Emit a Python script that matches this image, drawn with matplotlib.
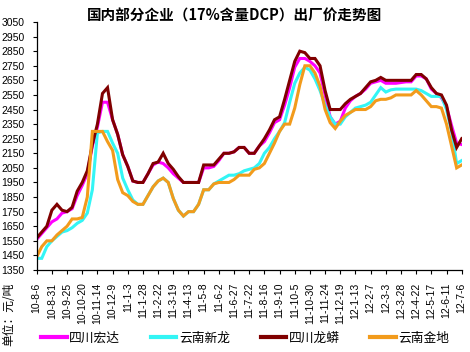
import matplotlib
matplotlib.use("Agg")
import matplotlib.pyplot as plt
from matplotlib.lines import Line2D

plt.rcParams['font.family'] = ['Noto Sans CJK SC', 'DejaVu Sans']

# 横轴标签（每隔25天）
tick_labels = ["10-8-6", "10-8-31", "10-9-25", "10-10-20", "10-11-14", "10-12-9",
               "11-1-3", "11-1-28", "11-2-22", "11-3-19", "11-4-13", "11-5-8",
               "11-6-2", "11-6-27", "11-7-22", "11-8-16", "11-9-10", "11-10-5",
               "11-10-30", "11-11-24", "11-12-19", "12-1-13", "12-2-7", "12-3-3",
               "12-3-28", "12-4-22", "12-5-17", "12-6-11", "12-7-6"]

names = ["四川宏达", "云南新龙", "四川龙蟒", "云南金地"]

hongda = [1560, 1600, 1640, 1680, 1700, 1740, 1750, 1770, 1860, 1930,
          2010, 2200, 2330, 2500, 2500, 2380, 2280, 2140, 2060, 1960,
          1950, 1950, 2010, 2070, 2090, 2080, 2050, 2010, 1980, 1950,
          1950, 1950, 1950, 2050, 2050, 2060, 2100, 2150, 2150, 2160,
          2190, 2190, 2150, 2150, 2200, 2230, 2290, 2360, 2380, 2480,
          2600, 2740, 2800, 2800, 2780, 2750, 2700, 2550, 2400, 2350,
          2370, 2460, 2510, 2540, 2560, 2590, 2630, 2640, 2650, 2630,
          2630, 2630, 2635, 2640, 2640, 2680, 2680, 2660, 2590, 2560,
          2530, 2470, 2340, 2220, 2210]

xinlong = [1430, 1430, 1510, 1550, 1580, 1610, 1620, 1640, 1670, 1690,
           1740, 1900, 2290, 2300, 2300, 2220, 2150, 1980, 1900, 1830,
           1800, 1800, 1860, 1920, 1960, 1980, 1950, 1840, 1760, 1720,
           1750, 1750, 1800, 1900, 1900, 1940, 1960, 1980, 2000, 2000,
           2010, 2030, 2040, 2050, 2080, 2150, 2190, 2250, 2300, 2360,
           2500, 2630, 2700, 2740, 2720, 2660, 2580, 2480, 2400, 2350,
           2350, 2400, 2430, 2460, 2470, 2480, 2500, 2550, 2600, 2570,
           2585, 2590, 2590, 2590, 2590, 2590, 2580, 2560, 2540, 2540,
           2540, 2450, 2300, 2080, 2100]

longmang = [1570, 1610, 1650, 1760, 1800, 1760, 1750, 1780, 1890, 1950,
            2030, 2210, 2350, 2560, 2600, 2380, 2280, 2140, 2060, 1960,
            1950, 1950, 2010, 2080, 2090, 2150, 2080, 2040, 1990, 1950,
            1950, 1950, 1950, 2070, 2070, 2070, 2110, 2150, 2150, 2160,
            2190, 2190, 2150, 2150, 2200, 2250, 2310, 2380, 2400, 2520,
            2650, 2780, 2850, 2840, 2800, 2800, 2750, 2580, 2450, 2450,
            2450, 2490, 2520, 2540, 2560, 2600, 2640, 2650, 2670, 2650,
            2650, 2650, 2650, 2650, 2650, 2690, 2690, 2660, 2600, 2560,
            2550, 2480, 2310, 2190, 2250]

jindi = [1440, 1510, 1550, 1550, 1590, 1620, 1650, 1700, 1700, 1710,
         1850, 2300, 2300, 2300, 2230, 2170, 1970, 1880, 1860, 1820,
         1800, 1800, 1860, 1920, 1960, 1980, 1950, 1840, 1760, 1720,
         1750, 1750, 1800, 1900, 1900, 1940, 1950, 1950, 1950, 1970,
         2000, 2000, 2000, 2040, 2050, 2080, 2150, 2220, 2300, 2350,
         2350, 2460, 2620, 2750, 2750, 2700, 2610, 2450, 2360, 2320,
         2370, 2410, 2430, 2450, 2450, 2450, 2470, 2510, 2520, 2520,
         2530, 2550, 2550, 2550, 2550, 2580, 2550, 2510, 2470, 2470,
         2460, 2350, 2200, 2050, 2070]

colors = ["#ff00ff", "#33f5f5", "#800000", "#f29b1c"]
series = [hongda, xinlong, longmang, jindi]

fig = plt.figure(figsize=(4.7, 3.52), dpi=100)
ax = fig.add_axes([36.7 / 470, 1 - 270 / 352, (461.7 - 36.7) / 470, 248 / 352])

x = list(range(len(hongda)))
for vals, c in zip(series, colors):
    ax.plot(x, vals, color=c, lw=2.2, solid_joinstyle='miter')

ax.set_xlim(0, len(hongda) - 1)
ax.set_ylim(1350, 3050)
ax.set_yticks(range(1350, 3051, 100))
ax.set_xticks(range(0, len(hongda), 3))
ax.set_xticklabels(tick_labels, rotation=90, fontfamily='Liberation Sans', fontsize=7.5)
for lab in ax.get_yticklabels():
    lab.set_fontfamily('Liberation Sans')
    lab.set_fontsize(7.5)
ax.tick_params(axis='both', direction='out', length=3, width=0.8, color='black')
ax.tick_params(axis='y', pad=6)
ax.tick_params(axis='x', pad=6)
ax.spines['top'].set_visible(False)
ax.spines['right'].set_visible(False)
ax.spines['left'].set_linewidth(0.9)
ax.spines['bottom'].set_linewidth(0.9)

fig.text(0.498, 1 - 16 / 352, "国内部分企业（17%含量DCP）出厂价走势图",
         ha='center', va='center', fontsize=10.5, fontweight='bold')
fig.text(9 / 470, 1 - 283 / 352, "单位：元/吨", rotation=90, ha='center', va='top', fontsize=8.5)

handles = [Line2D([0], [0], color=c, lw=3) for c in colors]
fig.legend(handles, names, loc='center', bbox_to_anchor=(0.522, 1 - 338 / 352), ncol=4,
           frameon=False, fontsize=9.2, handlelength=2.0, handletextpad=0.2,
           columnspacing=2.4, borderpad=0)

fig.savefig("out.png", dpi=100)
